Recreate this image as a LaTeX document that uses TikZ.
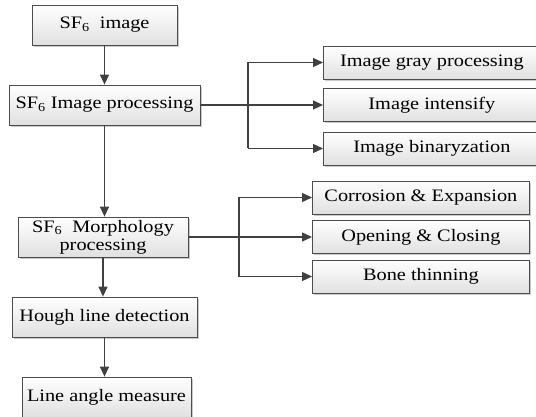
\documentclass[tikz,border=0pt]{standalone}
\usepackage{fontspec}
\setmainfont[FakeStretch=1.16]{Liberation Serif}
\usetikzlibrary{arrows.meta,shadows}

\begin{document}
\begin{tikzpicture}[x=1pt,y=-1pt,
    procbox/.style={draw=black!70,line width=0.8pt,top color=white,bottom color=black!12,
      drop shadow={shadow xshift=1.8pt,shadow yshift=-1.8pt,opacity=0.35,fill=black!60},
      inner sep=0pt,font=\fontsize{17.5}{18}\selectfont,align=center},
    subbox/.style={procbox,anchor=west,minimum width=217pt,minimum height=33pt},
    link/.style={draw=black!75,line width=1.3pt},
    flow/.style={link,-{Triangle[length=10pt,width=9pt]}}]
  \useasboundingbox (0,0) rectangle (536,417);
  % main column
  \node[procbox,minimum width=145pt,minimum height=40pt] (img) at (104.5,25) {SF\textsubscript{6}\ \ image};
  \node[procbox,minimum width=191pt,minimum height=40pt] (proc) at (104.5,105) {SF\textsubscript{6} Image processing};
  \node[procbox,minimum width=170pt,minimum height=40pt] (morph) at (103,237) {SF\textsubscript{6}\ \ Morphology\\processing};
  \node[procbox,minimum width=185pt,minimum height=40pt] (hough) at (104.5,317) {Hough line detection};
  \node[procbox,minimum width=169pt,minimum height=40pt] (angle) at (106.5,397) {Line angle measure};
  % image processing steps
  \node[subbox] (gray) at (323,62.5) {Image gray processing};
  \node[subbox] (intens) at (323,105) {Image intensify};
  \node[subbox] (binar) at (323,148.5) {Image binaryzation};
  % morphology steps
  \node[subbox] (corr) at (312,197.5) {Corrosion \& Expansion};
  \node[subbox] (open) at (312,237) {Opening \& Closing};
  \node[subbox] (bone) at (312,276.5) {Bone thinning};

  \draw[flow] (img) -- (proc);
  \draw[flow] (proc.south) -- (proc.south |- morph.north);
  \draw[flow] (morph.south) -- (morph.south |- hough.north);
  \draw[flow] (hough.south) -- (hough.south |- angle.north);

  \coordinate (pj) at (248,105);
  \draw[link] (proc.east) -- (pj);
  \draw[link] (pj |- gray.west) -- (pj |- binar.west);
  \foreach \n in {gray,intens,binar}
    \draw[flow] (pj |- \n.west) -- (\n.west);

  \coordinate (mj) at (239,237);
  \draw[link] (morph.east) -- (mj);
  \draw[link] (mj |- corr.west) -- (mj |- bone.west);
  \foreach \n in {corr,open,bone}
    \draw[flow] (mj |- \n.west) -- (\n.west);
\end{tikzpicture}
\end{document}
